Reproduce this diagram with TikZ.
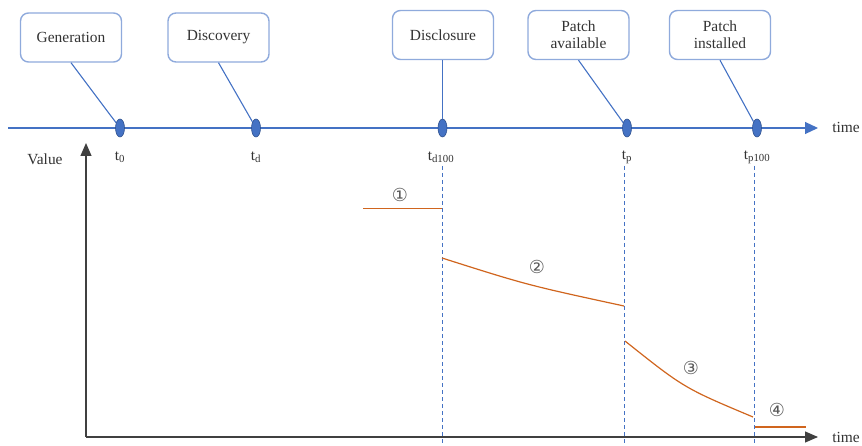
\documentclass[tikz,border=0pt]{standalone}
\usepackage{fontspec}
\setmainfont{Liberation Serif}
\newfontfamily\circfont{DejaVu Sans}
\usepackage{xcolor}
\usetikzlibrary{arrows.meta,positioning,shapes.geometric}

\definecolor{lineblue}{HTML}{4472C4}
\definecolor{boxblue}{HTML}{8FAADC}
\definecolor{dotedge}{HTML}{2F528F}
\definecolor{valorange}{HTML}{D0651E}
\definecolor{axisgray}{HTML}{404040}
\definecolor{txtgray}{HTML}{333333}

\begin{document}
\begin{tikzpicture}[
  x=1bp, y=-1bp,
  font=\fontsize{15.5}{17}\selectfont, text=txtgray,
  event/.style={draw=boxblue, line width=1.4bp, rounded corners=8bp, fill=white,
                align=center, minimum width=101bp, minimum height=49bp, inner sep=2pt},
  dot/.style={ellipse, draw=dotedge, fill=lineblue, line width=0.6bp,
              minimum width=9bp, minimum height=18bp, inner sep=0pt},
  tline/.style={lineblue, line width=1.1bp, -{Triangle[length=13bp,width=12bp]}},
  pin/.style={draw=lineblue, line width=1.1bp},
  axis/.style={axisgray, line width=1.2bp, -{Triangle[length=13bp,width=11bp]}, color=axisgray},
  vdash/.style={draw=lineblue, line width=1.1bp, dash pattern=on 4bp off 3bp},
  val/.style={valorange, line width=1.2bp},
  num/.style={font=\circfont\fontsize{18}{20}\selectfont, text=black!65},
  tick/.style={inner sep=1pt}
]
\useasboundingbox (0,0) rectangle (862,446);

% time line with events
\coordinate (tstart) at (8,128);
\coordinate (tend) at (818,128);
\draw[tline] (tstart) -- (tend);
\node (ttime) at (846,127) {time};

\node[dot] (d0) at (120,128) {};
\node[dot] (dd) at (256,128) {};
\node[dot] (dd100) at (442.5,128) {};
\node[dot] (dp) at (627,128) {};
\node[dot] (dp100) at (757,128) {};

\node[event] (gen) at (71,37.5) {Generation};
\node[event] (disc) at (218.5,37.5) {Discovery};
\node[event] (discl) at (443,35) {Disclosure};
\node[event] (pavail) at (578.5,35) {Patch\\available};
\node[event] (pinst) at (720,35) {Patch\\installed};

\draw[pin] (gen.south) -- (d0);
\draw[pin] (disc.south) -- (dd);
\draw[pin] (discl.south -| dd100) -- (dd100);
\draw[pin] (pavail.south) -- (dp);
\draw[pin] (pinst.south) -- (dp100);

\node[tick] (l0) at (120,157) {t\textsubscript{0}};
\node[tick] (ld) at (256,157) {t\textsubscript{d}};
\node[tick] (ld100) at (441,157) {t\textsubscript{d100}};
\node[tick] (lp) at (627,157) {t\textsubscript{p}};
\node[tick] (lp100) at (757,157) {t\textsubscript{p100}};

% value over time
\coordinate (orig) at (86,437);
\coordinate (vtop) at (86,143);
\coordinate (vright) at (818,437);
\draw[axis] (orig) -- (vtop);
\draw[axis] (orig) -- (vright);
\node (vlabel) at (45,159) {Value};
\node (xtime) at (846,437) {time};

\coordinate (c1top) at (442.5,166);  \coordinate (c1bot) at (442.5,446);
\coordinate (c2top) at (624.5,166);  \coordinate (c2bot) at (624.5,446);
\coordinate (c3top) at (754.5,166);  \coordinate (c3bot) at (754.5,446);
\draw[vdash] (c1top) -- (c1bot);
\draw[vdash] (c2top) -- (c2bot);
\draw[vdash] (c3top) -- (c3bot);

\coordinate (a1) at (363,208.5);  \coordinate (a2) at (442,208.5);
\coordinate (b1) at (442,258);    \coordinate (b2) at (624,306);
\coordinate (e1) at (625,341);    \coordinate (e2) at (753,417);
\coordinate (f1) at (755,427);    \coordinate (f2) at (806,427);
\draw[val] (a1) -- (a2);
\draw[val] (b1) .. controls (527,285) .. (b2);
\draw[val] (e1) .. controls (684,388) .. (e2);
\draw[val] (f1) -- (f2);

\node[num] (n1) at (400,195) {①};
\node[num] (n2) at (537,267) {②};
\node[num] (n3) at (691,368) {③};
\node[num] (n4) at (777,410) {④};
\end{tikzpicture}
\end{document}
